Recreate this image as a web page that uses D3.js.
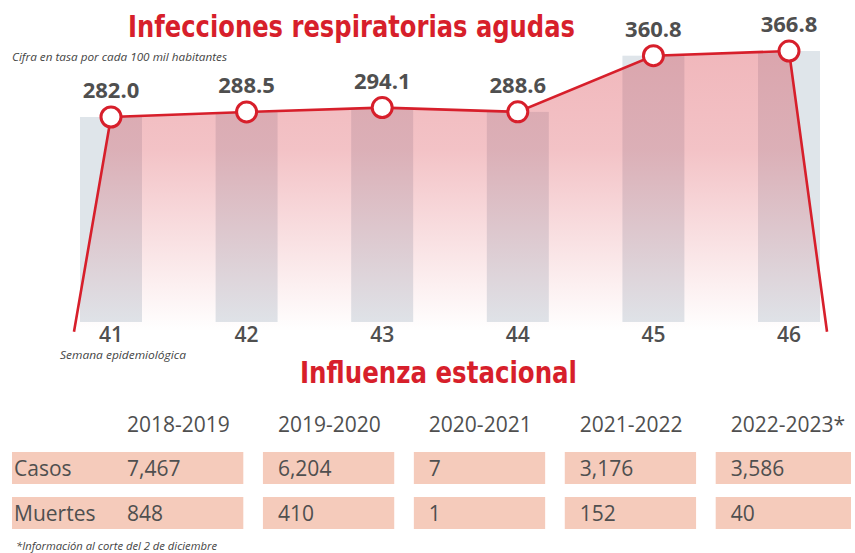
<!DOCTYPE html>
<html>
<head>
<meta charset="utf-8">
<script src="https://cdn.jsdelivr.net/npm/d3@7"></script>
<style>
  body { margin: 0; background: #fff; }
  svg { display: block; }
</style>
</head>
<body>
<div id="chart"></div>
<script>
// chart data
var weeks = ["41", "42", "43", "44", "45", "46"];
var rates = [282.0, 288.5, 294.1, 288.6, 360.8, 366.8];

// table data
var seasons = ["2018-2019", "2019-2020", "2020-2021", "2021-2022", "2022-2023*"];
var rowNames = ["Casos", "Muertes"];
var casos = ["7,467", "6,204", "7", "3,176", "3,586"];
var muertes = ["848", "410", "1", "152", "40"];

var w = 855, h = 553;
var red = "#d71f2b", grey = "#4f4f4f";
var svg = d3.select("#chart").append("svg").attr("width", w).attr("height", h);

var defs = svg.append("defs");
var grad = defs.append("linearGradient").attr("id", "pink")
    .attr("x1", 0).attr("y1", 0).attr("x2", 0).attr("y2", 1);
grad.append("stop").attr("offset", "0%").attr("stop-color", "#d21e2c").attr("stop-opacity", 0.32);
grad.append("stop").attr("offset", "35%").attr("stop-color", "#d21e2c").attr("stop-opacity", 0.27);
grad.append("stop").attr("offset", "100%").attr("stop-color", "#d21e2c").attr("stop-opacity", 0);

// scales
var xScale = d3.scaleBand().domain(weeks).range([80, 820]).paddingInner(0.543).paddingOuter(0);
var yScale = d3.scaleLinear().domain([0, 400]).range([336.4, 25.2]);
var barBottom = 322;
var cx = function(d){ return xScale(d) + xScale.bandwidth() / 2; };

// titles
svg.append("text").attr("x", 128).attr("y", 37)
    .attr("textLength", 447).attr("lengthAdjust", "spacingAndGlyphs")
    .style("font-family", "'Liberation Sans Narrow','DejaVu Sans Condensed',Roboto,sans-serif")
    .style("font-weight", "bold").style("font-size", "30px").style("fill", red)
    .text("Infecciones respiratorias agudas");

svg.append("text").attr("x", 12).attr("y", 61)
    .style("font-family", "'Open Sans',sans-serif").style("font-style", "italic")
    .style("font-size", "11px").style("fill", "#444")
    .attr("textLength", 215).attr("lengthAdjust", "spacingAndGlyphs")
    .text("Cifra en tasa por cada 100 mil habitantes");

// bars
svg.selectAll(".bar").data(weeks).enter().append("rect")
    .attr("class", "bar")
    .attr("x", d => xScale(d))
    .attr("y", (d, i) => yScale(rates[i]))
    .attr("width", xScale.bandwidth())
    .attr("height", (d, i) => barBottom - yScale(rates[i]))
    .attr("fill", "#dfe5ea");

// line points incl. stems down to the base
var pts = weeks.map((d, i) => [cx(d), yScale(rates[i])]);
var stemY = yScale(6);
var first = [cx(weeks[0]) - 37, stemY];
var last = [cx(weeks[weeks.length - 1]) + 38, stemY];
var linePts = [first].concat(pts, [last]);

svg.append("path")
    .attr("d", d3.line()(linePts) + "Z")
    .attr("fill", "url(#pink)");

svg.append("path")
    .attr("d", d3.line()(linePts))
    .attr("fill", "none").attr("stroke", red).attr("stroke-width", 2.6);

svg.selectAll(".dot").data(pts).enter().append("circle")
    .attr("cx", d => d[0]).attr("cy", d => d[1]).attr("r", 10)
    .attr("fill", "#fff").attr("stroke", red).attr("stroke-width", 3);

// value labels
svg.selectAll(".val").data(weeks).enter().append("text")
    .attr("x", d => cx(d))
    .attr("y", (d, i) => yScale(rates[i]) - 19)
    .attr("text-anchor", "middle")
    .style("font-family", "'Open Sans',sans-serif").style("font-weight", "bold")
    .style("font-size", "22px").style("fill", grey)
    .text((d, i) => rates[i].toFixed(1));

// x labels
svg.selectAll(".wk").data(weeks).enter().append("text")
    .attr("x", d => cx(d)).attr("y", 342)
    .attr("text-anchor", "middle")
    .style("font-family", "'Open Sans',sans-serif").style("font-weight", 600)
    .style("font-size", "21px").style("fill", grey)
    .text(d => d);

svg.append("text").attr("x", 60).attr("y", 359)
    .style("font-family", "'Open Sans',sans-serif").style("font-style", "italic")
    .style("font-size", "11px").style("fill", "#444")
    .attr("textLength", 126).attr("lengthAdjust", "spacingAndGlyphs")
    .text("Semana epidemiológica");

svg.append("text").attr("x", 300).attr("y", 383)
    .attr("textLength", 277).attr("lengthAdjust", "spacingAndGlyphs")
    .style("font-family", "'Liberation Sans Narrow','DejaVu Sans Condensed',Roboto,sans-serif")
    .style("font-weight", "bold").style("font-size", "31px").style("fill", red)
    .text("Influenza estacional");

// table
var colScale = d3.scaleBand().domain(seasons).range([112, 847]).paddingInner(0.13).paddingOuter(0);
var rowScale = d3.scaleBand().domain(rowNames).range([452, 529]).paddingInner(0.289).paddingOuter(0);
var tableRows = [casos, muertes];
var tfont = "'Open Sans',sans-serif";

svg.selectAll(".hdr").data(seasons).enter().append("text")
    .attr("x", d => colScale(d) + 15).attr("y", 432)
    .style("font-family", tfont).style("font-size", "21px").style("fill", grey)
    .text(d => d);

rowNames.forEach(function(r, ri){
    var g = svg.append("g");
    g.selectAll("rect").data(seasons).enter().append("rect")
        .attr("x", (d, i) => i == 0 ? 12 : colScale(d))
        .attr("y", rowScale(r))
        .attr("width", (d, i) => i == 0 ? colScale(d) + colScale.bandwidth() - 12 : colScale.bandwidth() + (i == seasons.length - 1 ? 4 : 0))
        .attr("height", rowScale.bandwidth())
        .attr("fill", "#f5cbbb");
    g.append("text").attr("x", 14).attr("y", rowScale(r) + 24)
        .style("font-family", tfont).style("font-size", "21px").style("fill", grey)
        .text(r);
    g.selectAll(".cell").data(seasons).enter().append("text")
        .attr("x", d => colScale(d) + 15).attr("y", rowScale(r) + 24)
        .style("font-family", tfont).style("font-size", "21px").style("fill", grey)
        .text((d, i) => tableRows[ri][i]);
});

svg.append("text").attr("x", 16).attr("y", 550)
    .style("font-family", tfont).style("font-style", "italic")
    .style("font-size", "11px").style("fill", "#444")
    .attr("textLength", 201).attr("lengthAdjust", "spacingAndGlyphs")
    .text("*Información al corte del 2 de diciembre");
</script>
</body>
</html>
